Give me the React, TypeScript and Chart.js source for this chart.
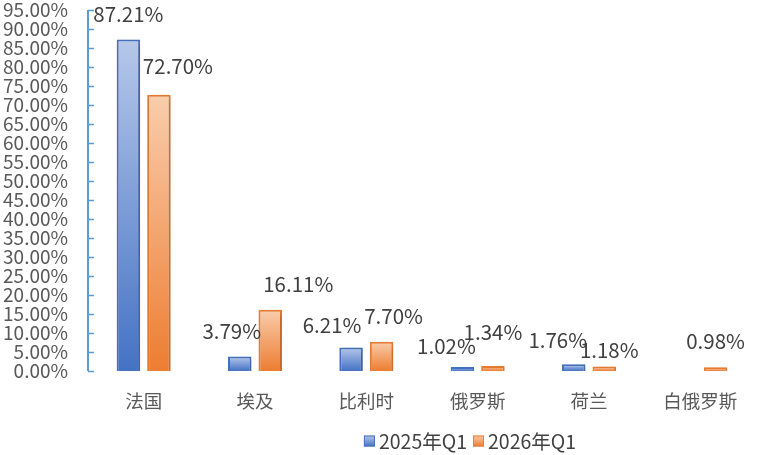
import React, { useEffect, useRef } from "react";
import { Chart, registerables } from "chart.js";

Chart.register(...registerables);

const categories = ["法国", "埃及", "比利时", "俄罗斯", "荷兰", "白俄罗斯"];
const series2025 = [87.21, 3.79, 6.21, 1.02, 1.76, 0];
const series2026 = [72.7, 16.11, 7.7, 1.34, 1.18, 0.98];
const seriesNames = ["2025年Q1", "2026年Q1"];
const yMax = 95;
const yStep = 5;

// Label nudges [dx, dy] in px, reproducing the manual label placement
const labelNudge2025 = [[0, 0], [-8, 0], [-19, 3], [-16, 4], [-16, 1], [0, 0]];
const labelNudge2026 = [[19, -4], [28, -1], [12, -1], [0, -9], [5, 9], [0, -1]];

const FONT = "'Noto Sans CJK SC', 'Microsoft YaHei', sans-serif";
const palette = [
  { top: "rgb(182,200,234)", bottom: "rgb(68,114,196)", border: "#4472c4" },
  { top: "rgb(249,205,172)", bottom: "rgb(237,125,49)", border: "#ed7d31" },
];

function barGradient(ctx: any, idx: number) {
  const chart = ctx.chart;
  const area = chart.chartArea;
  if (!area || ctx.type !== "data") return palette[idx].bottom;
  const y = chart.scales.y;
  const v = ctx.raw as number;
  const top = y.getPixelForValue(v);
  const bottom = y.getPixelForValue(0);
  if (!isFinite(top) || !isFinite(bottom) || bottom - top < 1) return palette[idx].bottom;
  const g = chart.ctx.createLinearGradient(0, top, 0, bottom);
  g.addColorStop(0, palette[idx].top);
  g.addColorStop(1, palette[idx].bottom);
  return g;
}

const decorPlugin = {
  id: "decor",
  beforeDatasetsDraw(chart: any) {
    const c = chart.ctx;
    c.save();
    c.shadowColor = "rgba(0,0,0,0.22)";
    c.shadowBlur = 6;
    c.shadowOffsetX = 2;
    c.shadowOffsetY = 2;
  },
  afterDatasetsDraw(chart: any) {
    const c = chart.ctx;
    c.restore();
    // axis line with inward ticks
    const y = chart.scales.y;
    const x0 = chart.chartArea.left;
    c.save();
    c.strokeStyle = "#5b9bd5";
    c.lineWidth = 2;
    c.beginPath();
    c.moveTo(x0, y.getPixelForValue(yMax));
    c.lineTo(x0, y.getPixelForValue(0));
    c.stroke();
    c.lineWidth = 1.5;
    for (let v = 0; v <= yMax; v += yStep) {
      const py = Math.round(y.getPixelForValue(v)) + 0.5;
      c.beginPath();
      c.moveTo(x0, py);
      c.lineTo(x0 + 6, py);
      c.stroke();
    }
    c.restore();

    // data labels
    c.save();
    c.font = `20.5px ${FONT}`;
    c.fillStyle = "#404040";
    c.textAlign = "center";
    c.textBaseline = "middle";
    const nudges = [labelNudge2025, labelNudge2026];
    chart.data.datasets.forEach((ds: any, di: number) => {
      const meta = chart.getDatasetMeta(di);
      meta.data.forEach((el: any, i: number) => {
        const v = ds.data[i];
        if (!v) return;
        const [dx, dy] = nudges[di][i];
        c.fillText(v.toFixed(2) + "%", el.x + dx, el.y - 25 + dy);
      });
    });
    c.restore();

    // legend
    c.save();
    c.font = `19.5px ${FONT}`;
    c.textBaseline = "middle";
    c.textAlign = "left";
    const box = 11;
    const gapBox = 4;
    const gapItem = 6;
    const widths = seriesNames.map((n) => box + gapBox + c.measureText(n).width);
    const total = widths.reduce((a, b) => a + b, 0) + gapItem * (seriesNames.length - 1);
    let lx = 470 - total / 2;
    const ly = 441;
    seriesNames.forEach((n, i) => {
      const g = c.createLinearGradient(0, ly - box / 2, 0, ly + box / 2);
      g.addColorStop(0, palette[i].top);
      g.addColorStop(1, palette[i].bottom);
      c.fillStyle = g;
      c.fillRect(lx, ly - box / 2, box, box);
      c.strokeStyle = palette[i].border;
      c.lineWidth = 1;
      c.strokeRect(lx + 0.5, ly - box / 2 + 0.5, box - 1, box - 1);
      c.fillStyle = "#404040";
      c.fillText(n, lx + box + gapBox, ly + 1);
      lx += widths[i] + gapItem;
    });
    c.restore();
  },
};

export default function App() {
  const ref = useRef<HTMLCanvasElement>(null);
  useEffect(() => {
    document.body.style.margin = "0";
    if (!ref.current) return;
    const chart = new Chart(ref.current, {
      type: "bar",
      data: {
        labels: categories,
        datasets: [
          {
            label: seriesNames[0],
            data: series2025,
            backgroundColor: (ctx: any) => barGradient(ctx, 0),
            borderColor: palette[0].border,
            borderWidth: 2,
            borderSkipped: "bottom",
            barPercentage: 0.77,
            categoryPercentage: 0.548,
          },
          {
            label: seriesNames[1],
            data: series2026,
            backgroundColor: (ctx: any) => barGradient(ctx, 1),
            borderColor: palette[1].border,
            borderWidth: 2,
            borderSkipped: "bottom",
            barPercentage: 0.77,
            categoryPercentage: 0.548,
          },
        ],
      },
      options: {
        animation: false,
        responsive: true,
        maintainAspectRatio: false,
        layout: { padding: { top: 10, right: 3, bottom: 40, left: 0 } },
        plugins: {
          legend: { display: false },
          tooltip: { enabled: false },
        },
        scales: {
          x: {
            grid: { display: false, drawTicks: false },
            border: { display: false },
            ticks: {
              color: "#595959",
              font: { family: FONT, size: 18.5 },
              padding: 19,
              autoSkip: false,
              maxRotation: 0,
            },
            afterFit: (s: any) => {
              s.height = 44;
              s.paddingLeft = 0;
              s.paddingRight = 0;
            },
          },
          y: {
            min: 0,
            max: yMax,
            grid: { display: false, drawTicks: false },
            border: { display: false },
            ticks: {
              stepSize: yStep,
              autoSkip: false,
              color: "#595959",
              font: { family: FONT, size: 19 },
              padding: 20,
              callback: (v: any) => Number(v).toFixed(2) + "%",
            },
            afterFit: (s: any) => {
              s.width = 88;
              s.paddingTop = 0;
              s.paddingBottom = 0;
            },
          },
        },
      },
      plugins: [decorPlugin],
    });
    return () => chart.destroy();
  }, []);
  return (
    <div style={{ width: 759, height: 455, position: "relative" }}>
      <canvas ref={ref} />
    </div>
  );
}
